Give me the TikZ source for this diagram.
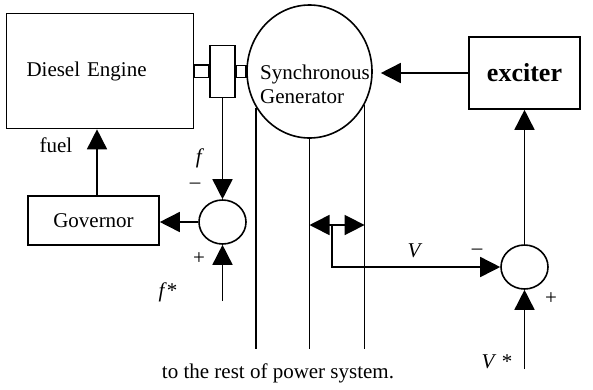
\documentclass[tikz,border=0pt]{standalone}
\usepackage{fontspec}
\setmainfont{Liberation Serif}
\usetikzlibrary{positioning,shapes.geometric,arrows.meta}
\tikzset{
  blk/.style={draw, line width=1.6pt, inner sep=0pt, align=center},
  sumpt/.style={draw, ellipse, line width=1.6pt, inner sep=0pt, minimum width=47pt, minimum height=44pt},
  sig/.style={line width=1.6pt, -{Triangle[length=20pt,width=20pt]}},
  meas/.style={line width=1.6pt, {Triangle[length=20pt,width=20pt]}-{Triangle[length=20pt,width=20pt]}},
  wire/.style={line width=1.6pt},
  txt/.style={inner sep=0pt}
}
\begin{document}
\begin{tikzpicture}[x=1pt, y=-1pt, font=\fontsize{21}{24}\selectfont]
\useasboundingbox (0,0) rectangle (593,389);
% engine, coupling and generator
\node [blk, minimum width=187pt, minimum height=115pt, text width=147pt, inner xsep=20pt, align=left] (DE) at (100,71) {Diesel Engine};
\node [blk, minimum width=25pt, minimum height=52pt] (CP) at (222.5,71.5) {};
\node [draw, ellipse, line width=1.6pt, inner sep=0pt, minimum width=125pt, minimum height=133pt] (SG) at (309.5,71.5) {};
\node [txt, align=left, anchor=west] (SGtxt) at (260,84) {Synchronous\\Generator};
\draw [wire] ([yshift=6pt]DE.east) rectangle ([yshift=-6pt]CP.west);
\draw [wire] ([yshift=6pt]CP.east) rectangle ([yshift=-6pt]SG.west);
\node [blk, minimum width=111pt, minimum height=72pt, font=\fontsize{26}{30}\selectfont\bfseries] (EX) at (524.5,73) {exciter};
\draw [sig] (EX.west) -- ([xshift=8pt]SG.east |- EX.west);
% governor loop
\node [blk, minimum width=131pt, minimum height=49pt] (GOV) at (93.5,220.5) {Governor};
\draw [sig] ([xshift=3.5pt]GOV.north) -- ([xshift=3.5pt]GOV.north |- DE.south);
\node [txt] (fuel) at (56,145) {fuel};
\node [sumpt] (S1) at (222.5,222) {};
\coordinate (fref) at (222.5,301);
\draw [sig] (CP.south) -- (S1.north);
\draw [sig] (S1.west) -- (S1.west -| GOV.east);
\draw [sig] (fref) -- (S1.south);
\node [txt] (flbl) at (200,158) {\textit{f}};
\node [txt] (fminus) at (195,186) {\textendash};
\node [txt] (fplus) at (199,259) {+};
\node [txt] (fstar) at (168,292) {\textit{f}*};
% lines to the grid
\coordinate (busend) at (0,349);
\draw [wire] (SG.214) -- (SG.214 |- busend);
\draw [wire] (SG.south) -- (SG.south |- busend);
\draw [wire] (SG.329) -- (SG.329 |- busend);
\node [txt] (rest) at (278,373) {to the rest of power system.};
% voltage loop
\coordinate (Vl) at (SG.south |- 0,225);
\coordinate (Vr) at (SG.329 |- 0,225);
\draw [meas] (Vl) -- (Vr);
\coordinate (Vm) at (332,225);
\node [sumpt] (S2) at (524.5,267) {};
\draw [sig] (Vm) |- (S2.west);
\draw [sig] (S2.north) -- (EX.south);
\coordinate (Vref) at (524.5,369);
\draw [sig] (Vref) -- (S2.south);
\node [txt] (Vlbl) at (415,251) {\textit{V}};
\node [txt] (Vminus) at (477,252) {\textendash};
\node [txt] (Vplus) at (551,299) {+};
\node [txt] (Vstar) at (497,362) {\textit{V} *};
\end{tikzpicture}
\end{document}
